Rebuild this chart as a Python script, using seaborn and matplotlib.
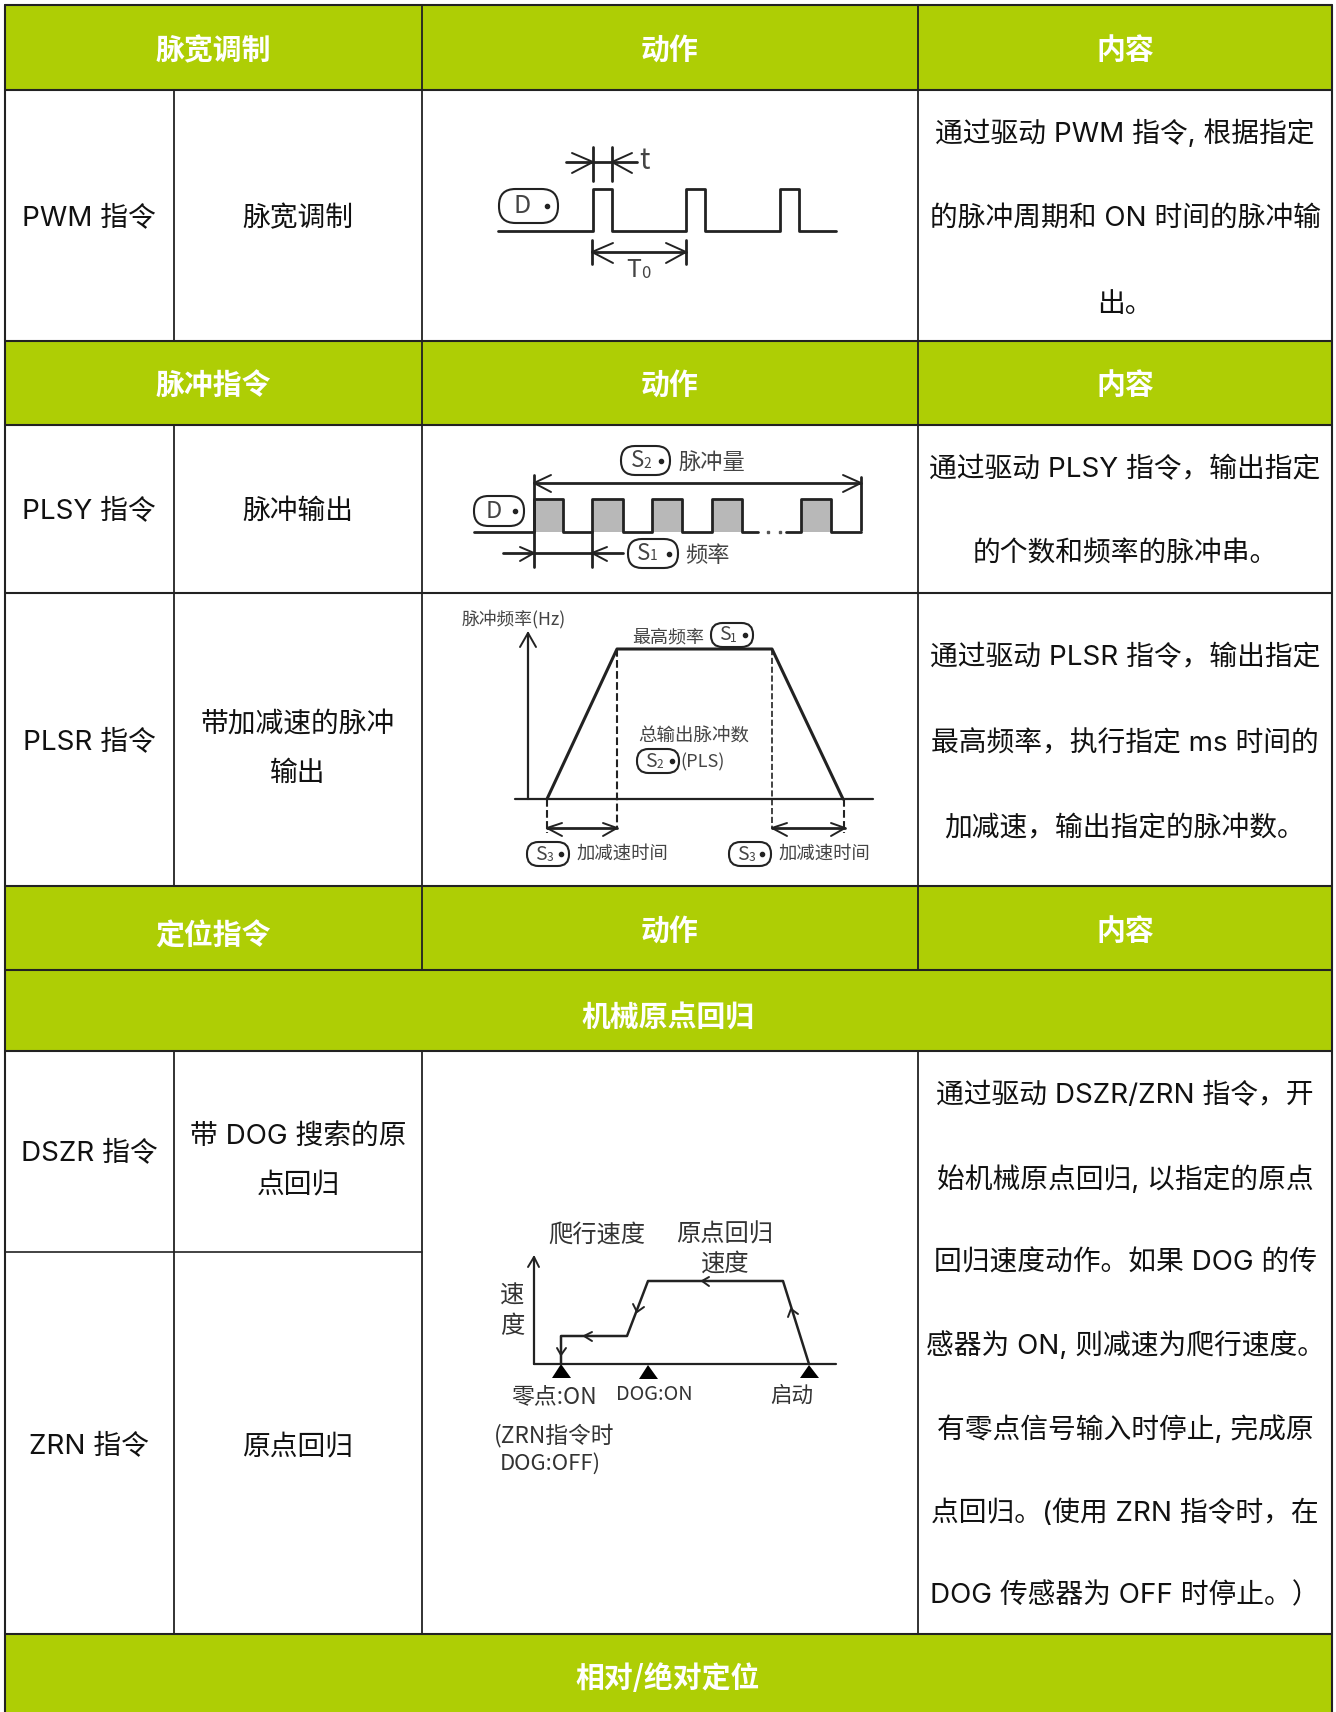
import matplotlib
matplotlib.use('Agg')
import matplotlib.pyplot as plt
import seaborn as sns
from matplotlib.patches import FancyBboxPatch, Rectangle

sns.set_theme(style='white')
plt.rcParams['font.family'] = ['Noto Sans CJK SC', 'DejaVu Sans']
BODY_FONT = ['Inter', 'Noto Sans CJK SC', 'DejaVu Sans']

# -----------------------------
# table grid and texts
# -----------------------------
GREEN = '#AECE05'
col_edges = [4.5, 174, 422, 918, 1332]
row_edges = [5, 89.5, 340.5, 425, 593, 885.5, 970, 1051, 1252, 1634]

head_titles = ['脉宽调制', '脉冲指令', '定位指令']
head_action = '动作'
head_content = '内容'
full_titles = ['机械原点回归', '相对/绝对定位']

names = ['PWM 指令', 'PLSY 指令', 'PLSR 指令', 'DSZR 指令', 'ZRN 指令']
funcs = ['脉宽调制', '脉冲输出', '带加减速的脉冲\n输出', '带 DOG 搜索的原\n点回归', '原点回归']

pwm_lines = ['通过驱动 PWM 指令, 根据指定', '的脉冲周期和 ON 时间的脉冲输', '出。']
plsy_lines = ['通过驱动 PLSY 指令，输出指定', '的个数和频率的脉冲串。']
plsr_lines = ['通过驱动 PLSR 指令，输出指定', '最高频率，执行指定 ms 时间的', '加减速，输出指定的脉冲数。']
zrn_lines = ['通过驱动 DSZR/ZRN 指令，开', '始机械原点回归, 以指定的原点', '回归速度动作。如果 DOG 的传',
             '感器为 ON, 则减速为爬行速度。', '有零点信号输入时停止, 完成原', '点回归。(使用 ZRN 指令时，在',
             'DOG 传感器为 OFF 时停止。）']

# -----------------------------
# waveforms (pixel readings)
# -----------------------------
pwm_x = [498, 593, 593, 612, 612, 686, 686, 705, 705, 780, 780, 799, 799, 836]
pwm_y = [231, 231, 189, 189, 231, 231, 189, 189, 231, 231, 189, 189, 231, 231]

plsy_x1 = [474, 534, 534, 563, 563, 592, 592, 623, 623, 652, 652, 682, 682, 712, 712, 742, 742, 758]
plsy_y1 = [532, 532, 499, 499, 532, 532, 499, 499, 532, 532, 499, 499, 532, 532, 499, 499, 532, 532]
plsy_x2 = [786, 801, 801, 831, 831, 861]
plsy_y2 = [532, 532, 499, 499, 532, 532]
plsy_grey_x = [(534, 563), (592, 623), (652, 682), (712, 742), (801, 831)]

plsr_x = [547, 617, 772, 843]
plsr_y = [799, 649, 649, 799]

zrn_x = [809, 783, 648, 627, 561, 561]
zrn_y = [1364, 1281, 1281, 1336, 1336, 1364]

fig, ax = plt.subplots(figsize=(13.36, 17.12), dpi=100)
fig.subplots_adjust(0, 0, 1, 1)


def line(x, y, lw=2.0, color='#222222', ls='-'):
    sns.lineplot(x=x, y=y, sort=False, estimator=None, ax=ax, color=color, linewidth=lw, linestyle=ls)


def txt(x, y, s, size=20, color='#111111', family=BODY_FONT, **kw):
    ax.text(x, y + 3, s, fontsize=size, color=color, family=family,
            ha='center', va='center', **kw)


def head(x, y, s):
    ax.text(x, y + 3, s, fontsize=20.8, color='white', fontweight='bold', ha='center', va='center')


def note(x, y, s, size=13, color='#444444'):
    ax.text(x, y + 1, s, fontsize=size, color=color, ha='center', va='center', zorder=4)


def oval(x0, x1, y0, y1, label, sub, lx, dx, size=14):
    r = (y1 - y0) / 2 - 0.5
    ax.add_patch(FancyBboxPatch((x0 + r, y0 + r), x1 - x0 - 2 * r, y1 - y0 - 2 * r,
                                boxstyle=f'round,pad={r},rounding_size={r}',
                                fc='white', ec='#222222', lw=1.5, zorder=3))
    ym = (y0 + y1) / 2
    note(lx, ym - 1, label, size=size)
    if sub:
        note(lx + size * 0.62, ym + 2, sub, size=size * 0.62)
    ax.plot([dx], [ym], 'o', ms=3, color='#222222', zorder=4)


def tri(x, y, fill_it=False):
    if fill_it:
        ax.fill(x, y, color='black', lw=0)
    else:
        line(x, y, lw=1.4)


# -----------------------------
# table
# -----------------------------
for i in [0, 2, 5, 6]:
    ax.add_patch(Rectangle((col_edges[0], row_edges[i]), col_edges[-1] - col_edges[0], row_edges[i + 1] - row_edges[i],
                           fc=GREEN, ec='none', zorder=0))
ax.add_patch(Rectangle((col_edges[0], row_edges[9]), col_edges[-1] - col_edges[0], 1712 - row_edges[9],
                       fc=GREEN, ec='none', zorder=0))

for y in row_edges:
    if y == 1252:
        line([col_edges[0], col_edges[2]], [y, y], lw=1.2)
    else:
        line([col_edges[0], col_edges[-1]], [y, y], lw=1.5)
line([col_edges[0], col_edges[0]], [row_edges[0], 1712], lw=1.5)
line([col_edges[-1], col_edges[-1]], [row_edges[0], 1712], lw=1.5)
for a, b in [(1, 2), (3, 5), (7, 9)]:
    line([col_edges[1], col_edges[1]], [row_edges[a], row_edges[b]], lw=1.3)
for a, b in [(0, 6), (7, 9)]:
    line([col_edges[2], col_edges[2]], [row_edges[a], row_edges[b]], lw=1.3)
    line([col_edges[3], col_edges[3]], [row_edges[a], row_edges[b]], lw=1.3)

for title, y, yl in zip(head_titles, [47, 382, 928], [47, 382, 933]):
    head(213, yl, title)
    head(670, y, head_action)
    head(1125, y, head_content)
head(668, 1015, full_titles[0])
head(668, 1675, full_titles[1])

for s, y in zip(names, [216, 509, 740, 1151, 1444]):
    txt(89, y, s)
for s, y in zip(funcs, [216, 509, 746, 1158, 1444]):
    txt(298, y, s, linespacing=2.15)

for lines, ys in [(pwm_lines, [131, 216, 302]), (plsy_lines, [467, 551]), (plsr_lines, [655, 741, 826]),
                  (zrn_lines, [1093, 1177, 1260, 1343, 1427, 1510, 1593])]:
    for s, y in zip(lines, ys):
        txt(1125, y, s)

# -----------------------------
# PWM diagram
# -----------------------------
line(pwm_x, pwm_y)
line([566, 637], [162, 162])
line([593, 593], [147, 181])
line([612, 612], [147, 181])
tri([572, 593, 572], [153, 162, 173])
tri([632, 612, 632], [153, 162, 173])
line([592, 592], [240, 264])
line([686, 686], [240, 264])
line([592, 686], [252, 252])
tri([613, 592, 613], [243, 252, 263])
tri([666, 686, 666], [243, 252, 263])
note(644, 160, 't', size=20)
note(634, 269, 'T', size=18)
note(646, 272, '0', size=12)
oval(499, 558, 189, 223, 'D', '', 522, 547, size=18)

# -----------------------------
# PLSY diagram
# -----------------------------
for a, b in plsy_grey_x:
    ax.add_patch(Rectangle((a, 499), b - a, 33, fc='#B8B8B8', ec='none', zorder=0))
line(plsy_x1, plsy_y1)
line(plsy_x2, plsy_y2)
ax.plot([768, 780], [532, 532], 's', ms=1.8, color='#555555')
line([534, 861], [483, 483])
line([534, 534], [475, 567])
line([861, 861], [477, 530])
tri([551, 534, 551], [475, 483, 492])
tri([843, 861, 843], [475, 483, 492])
line([503, 623], [553, 553])
line([592, 592], [532, 567])
tri([520, 534, 520], [547, 553, 561])
tri([607, 592, 607], [547, 553, 561])
oval(621, 670, 446, 475, 'S', '2', 637, 661, size=16)
note(712, 461, '脉冲量', size=16)
oval(474, 524, 496, 526, 'D', '', 494, 515, size=17)
oval(628, 678, 539, 568, 'S', '1', 644, 669, size=16)
note(707, 554, '频率', size=16)

# -----------------------------
# PLSR diagram
# -----------------------------
line([528, 528], [799, 633], lw=1.6)
tri([520, 528, 536], [647, 633, 647])
line([515, 873], [799, 799], lw=1.6)
line(plsr_x, plsr_y, lw=2.2)
line([617, 617], [649, 828], lw=1.5, ls='--')
line([772, 772], [649, 828], lw=1.2, ls='--')
line([547, 547], [799, 833], lw=1.5, ls='--')
line([844, 844], [799, 833], lw=1.5, ls='--')
line([547, 617], [828, 828])
line([772, 845], [828, 828])
tri([562, 547, 562], [823, 828, 836])
tri([603, 617, 603], [823, 828, 836])
tri([787, 772, 787], [823, 828, 836])
tri([831, 845, 831], [823, 828, 836])
note(514, 618, '脉冲频率(Hz)', size=12.8)
note(668, 636, '最高频率', size=13)
oval(711, 753, 623, 647, 'S', '1', 725, 745)
note(694, 736, '总输出脉冲数', size=13.3)
oval(637, 679, 749, 773, 'S', '2', 651, 672)
note(703, 761, '(PLS)', size=13)
oval(527, 569, 842, 866, 'S', '3', 541, 561)
note(622, 853, '加减速时间', size=13.2)
oval(729, 771, 842, 866, 'S', '3', 743, 762)
note(824, 853, '加减速时间', size=13.2)

# -----------------------------
# ZRN diagram
# -----------------------------
line([534, 534], [1364, 1257], lw=1.6)
tri([528, 534, 539], [1267, 1257, 1267])
line([534, 836], [1364, 1364], lw=1.6)
line(zrn_x, zrn_y, lw=1.8)
tri([788, 791, 798], [1317, 1309, 1314])
tri([709, 702, 709], [1277, 1281, 1286])
tri([633, 637, 644], [1304, 1312, 1307])
tri([592, 584, 592], [1332, 1336, 1341])
tri([557, 561, 566], [1348, 1355, 1348])
tri([561, 552, 571], [1364, 1378, 1378], fill_it=True)
tri([648, 639, 658], [1365, 1379, 1379], fill_it=True)
tri([809, 800, 819], [1365, 1378, 1378], fill_it=True)
note(597, 1234, '爬行速度', size=17.5, color='#333333')
note(725, 1234, '原点回归', size=17.5, color='#333333')
note(725, 1263, '速度', size=17.5, color='#333333')
note(512, 1295, '速', size=17.5, color='#333333')
note(512, 1325, '度', size=17.5, color='#333333')
note(554, 1397, '零点:ON', size=16.5, color='#333333')
note(654, 1394, 'DOG:ON', size=14.3, color='#333333')
note(792, 1395, '启动', size=15.5, color='#333333')
note(554, 1434, '(ZRN指令时', size=16.4, color='#333333')
note(550, 1463, 'DOG:OFF)', size=15.9, color='#333333')

ax.set_xlim(0, 1336)
ax.set_ylim(1712, 0)
ax.axis('off')
plt.savefig('out.png', dpi=100)
